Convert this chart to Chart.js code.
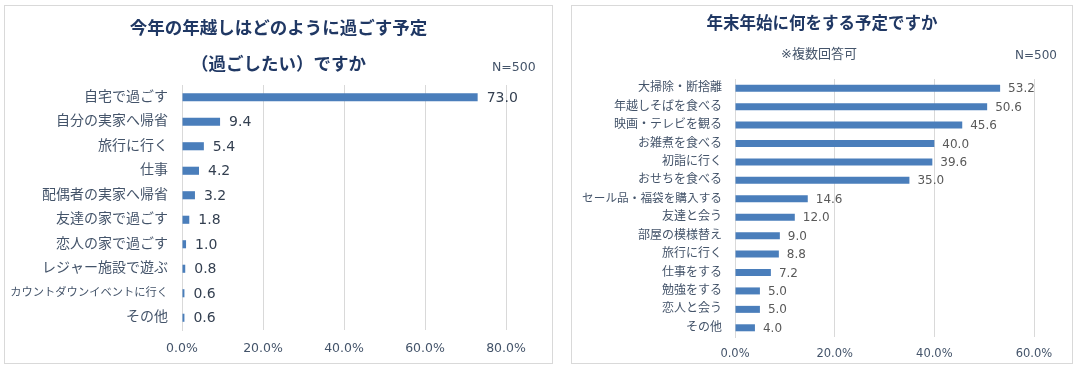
<!DOCTYPE html>
<html>
<head>
  <meta charset="UTF-8">
  <title>年越しの予定</title>
  <script src="https://cdn.jsdelivr.net/npm/chart.js"></script>
  <style>
    body {
      margin: 0;
      background: #fff;
      font-family: 'DejaVu Sans', 'Noto Sans CJK JP', sans-serif;
    }
    #page {
      position: relative;
      width: 1079px;
      height: 371px;
      overflow: hidden;
    }
    .box {
      position: absolute;
      top: 5px;
      height: 359px;
      box-sizing: border-box;
      border: 1px solid #d9d9d9;
    }
    #box1 { left: 4px; width: 549px; }
    #box2 { left: 571px; width: 502px; }
    .box canvas { position: absolute; left: 0; top: 0; }
    .title {
      position: absolute;
      left: 0; right: 0;
      text-align: center;
      font-weight: bold;
      color: #203864;
      white-space: nowrap;
    }
    .note {
      position: absolute;
      color: #44546a;
      white-space: nowrap;
    }
  </style>
</head>
<body>
<div id="page">
  <div class="box" id="box1">
    <canvas id="chart1" width="547" height="357"></canvas>
    <div class="title" style="top:4px; font-size:17.5px; line-height:36px;">今年の年越しはどのように過ごす予定<br>（過ごしたい）ですか</div>
    <div class="note" style="left:487px; top:53px; font-size:12.5px;">N=500</div>
  </div>
  <div class="box" id="box2">
    <canvas id="chart2" width="500" height="357"></canvas>
    <div class="title" style="top:7px; font-size:16.5px; line-height:22px;">年末年始に何をする予定ですか</div>
    <div class="note" style="left:209px; top:37px; font-size:13px;">※複数回答可</div>
    <div class="note" style="left:443px; top:42px; font-size:12px;">N=500</div>
  </div>
</div>

<script>
  // left chart
  const plans = ["自宅で過ごす", "自分の実家へ帰省", "旅行に行く", "仕事", "配偶者の実家へ帰省",
    "友達の家で過ごす", "恋人の家で過ごす", "レジャー施設で遊ぶ", "カウントダウンイベントに行く", "その他"];
  const planValues = [73.0, 9.4, 5.4, 4.2, 3.2, 1.8, 1.0, 0.8, 0.6, 0.6];
  const planTicks = [0, 20, 40, 60, 80];

  // right chart
  const activities = ["大掃除・断捨離", "年越しそばを食べる", "映画・テレビを観る", "お雑煮を食べる", "初詣に行く",
    "おせちを食べる", "セール品・福袋を購入する", "友達と会う", "部屋の模様替え", "旅行に行く",
    "仕事をする", "勉強をする", "恋人と会う", "その他"];
  const activityValues = [53.2, 50.6, 45.6, 40.0, 39.6, 35.0, 14.6, 12.0, 9.0, 8.8, 7.2, 5.0, 5.0, 4.0];
  const activityTicks = [0, 20, 40, 60];

  const FONT = "'DejaVu Sans', 'Noto Sans CJK JP', sans-serif";
  const BAR = '#4a7ebb';
  const GRID = '#d9d9d9';

  // draws the value next to the end of every bar
  const valueLabels = {
    id: 'valueLabels',
    afterDatasetsDraw(chart, args, opts) {
      const ctx = chart.ctx;
      ctx.save();
      ctx.font = opts.size + 'px ' + FONT;
      ctx.fillStyle = opts.color;
      ctx.textAlign = 'left';
      ctx.textBaseline = 'middle';
      chart.getDatasetMeta(0).data.forEach((bar, i) => {
        const v = chart.data.datasets[0].data[i];
        ctx.fillText(v.toFixed(1), bar.x + opts.gap, bar.y + 1);
      });
      ctx.restore();
    }
  };

  function makeChart(id, labels, values, ticks, cfg) {
    return new Chart(document.getElementById(id), {
      type: 'bar',
      data: {
        labels: labels,
        datasets: [{
          data: values,
          backgroundColor: BAR,
          barPercentage: cfg.barPct,
          categoryPercentage: 1
        }]
      },
      plugins: [valueLabels],
      options: {
        indexAxis: 'y',
        responsive: false,
        animation: false,
        layout: { padding: { left: 0, right: cfg.padRight, top: cfg.padTop, bottom: 0 } },
        plugins: {
          legend: { display: false },
          tooltip: { enabled: false },
          valueLabels: { size: cfg.valueSize, color: cfg.valueColor, gap: cfg.valueGap }
        },
        scales: {
          x: {
            min: 0,
            max: ticks[ticks.length - 1],
            afterBuildTicks: axis => { axis.ticks = ticks.map(v => ({ value: v })); },
            grid: { color: GRID, drawTicks: false },
            border: { display: false },
            ticks: {
              color: '#44546a',
              padding: cfg.xPad,
              font: { family: FONT, size: cfg.xSize },
              callback: v => v.toFixed(1) + '%'
            },
            afterFit: axis => { axis.height = cfg.xHeight; }
          },
          y: {
            grid: { display: false, drawTicks: false },
            border: { color: GRID },
            ticks: {
              color: '#44546a',
              padding: cfg.yPad,
              autoSkip: false,
              font: c => ({ family: FONT, size: Math.min(cfg.ySize, cfg.yMaxWidth / labels[c.index].length) })
            },
            afterFit: axis => { axis.width = cfg.yWidth; }
          }
        }
      }
    });
  }

  makeChart('chart1', plans, planValues, planTicks, {
    barPct: 0.33, padRight: 46, padTop: 79, xHeight: 33, xPad: 11, xSize: 12.5,
    yWidth: 177, yPad: 14, ySize: 14, yMaxWidth: 158,
    valueSize: 14, valueColor: '#333f50', valueGap: 9
  });

  makeChart('chart2', activities, activityValues, activityTicks, {
    barPct: 0.38, padRight: 38, padTop: 73, xHeight: 26, xPad: 10, xSize: 11.5,
    yWidth: 163, yPad: 13, ySize: 12, yMaxWidth: 140,
    valueSize: 12, valueColor: '#595959', valueGap: 8
  });
</script>
</body>
</html>
